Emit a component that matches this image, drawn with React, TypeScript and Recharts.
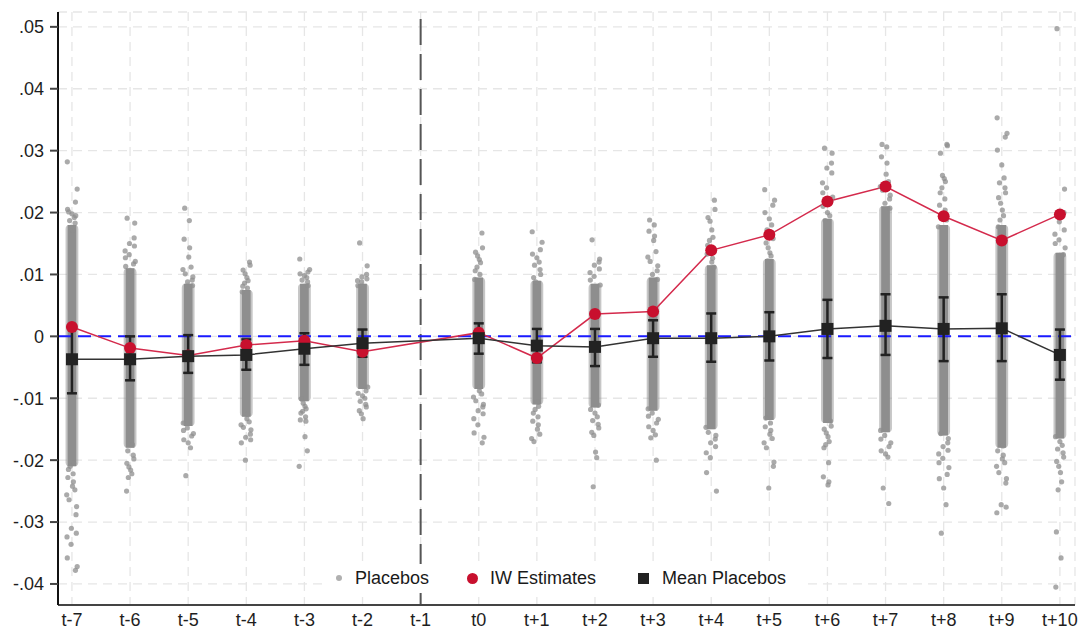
import React from 'react';
import {
  ComposedChart,
  XAxis,
  YAxis,
  CartesianGrid,
  Line,
  Scatter,
  ErrorBar,
  ReferenceLine,
  ReferenceArea,
} from 'recharts';

const categories = ['t-7', 't-6', 't-5', 't-4', 't-3', 't-2', 't-1', 't0', 't+1', 't+2', 't+3', 't+4', 't+5', 't+6', 't+7', 't+8', 't+9', 't+10'];

const iwEstimates = [0.0015, -0.0019, -0.0031, -0.0014, -0.0007, -0.0025, null, 0.0006, -0.0035, 0.0036, 0.004, 0.0139, 0.0164, 0.0218, 0.0242, 0.0194, 0.0155, 0.0197];

const meanPlacebos = [-0.0037, -0.0037, -0.0032, -0.003, -0.002, -0.0011, null, -0.0003, -0.0015, -0.0017, -0.0003, -0.0003, 0.0, 0.0012, 0.0017, 0.0012, 0.0013, -0.003];

const ciLow = [-0.0092, -0.0071, -0.0059, -0.0054, -0.0046, -0.0033, null, -0.0028, -0.0042, -0.0048, -0.0033, -0.0041, -0.0039, -0.0035, -0.003, -0.004, -0.004, -0.007];

const ciHigh = [0.0016, 0.0, 0.0002, -0.0005, 0.0005, 0.0011, null, 0.0021, 0.0012, 0.0012, 0.0026, 0.0037, 0.0039, 0.0059, 0.0068, 0.0063, 0.0068, 0.0011];

const yTicks = [-0.04, -0.03, -0.02, -0.01, 0, 0.01, 0.02, 0.03, 0.04, 0.05];
const yTickLabels = ['-.04', '-.03', '-.02', '-.01', '0', '.01', '.02', '.03', '.04', '.05'];

// dense central band of the placebo cloud, per category
const placeboCoreLow = [-0.021, -0.018, -0.0145, -0.013, -0.0105, -0.0085, null, -0.0085, -0.011, -0.0115, -0.012, -0.015, -0.0135, -0.014, -0.0155, -0.016, -0.018, -0.0165];
const placeboCoreHigh = [0.018, 0.011, 0.0085, 0.0075, 0.0085, 0.0085, null, 0.0095, 0.009, 0.0085, 0.0095, 0.0115, 0.0125, 0.019, 0.021, 0.018, 0.018, 0.0135];

// individual placebo estimates outside / at the edge of the dense band
const placeboValues: number[][] = [
  [0.0282, 0.0238, 0.0217, 0.0205, 0.0198, 0.0192, 0.0187, 0.0183, 0.0195, 0.0201, 0.0176, 0.0171, -0.0205, -0.021, -0.0215, -0.0222, -0.0228, -0.0235, -0.0242, -0.0248, -0.0256, -0.0264, -0.0275, -0.0288, -0.031, -0.0318, -0.0324, -0.0336, -0.0358, -0.0372, -0.0378],
  [0.0191, 0.0183, 0.0159, 0.015, 0.0146, 0.0138, 0.0132, 0.0127, 0.0121, 0.0117, 0.0113, 0.0106, -0.0175, -0.0185, -0.0192, -0.0198, -0.0205, -0.0211, -0.0216, -0.0222, -0.0228, -0.025],
  [0.0207, 0.0187, 0.0157, 0.0143, 0.0128, 0.0112, 0.0108, 0.0101, 0.0096, 0.0091, 0.0088, 0.0082, -0.014, -0.0148, -0.0152, -0.0157, -0.0161, -0.0167, -0.0172, -0.018, -0.0225],
  [0.012, 0.0115, 0.0107, 0.0101, 0.0095, 0.009, 0.0086, 0.0081, 0.0078, 0.0072, -0.0126, -0.0133, -0.0138, -0.0143, -0.0147, -0.0151, -0.0158, -0.0163, -0.0167, -0.0172, -0.02],
  [0.0125, 0.0108, 0.0104, 0.0101, 0.0098, 0.0095, 0.0091, 0.0088, 0.0082, -0.0101, -0.0108, -0.0113, -0.0117, -0.0121, -0.0124, -0.013, -0.0135, -0.0137, -0.0162, -0.0185, -0.021],
  [0.0151, 0.0114, 0.01, 0.0096, 0.0093, 0.009, 0.0088, 0.0082, -0.0082, -0.0088, -0.0092, -0.0096, -0.01, -0.0105, -0.011, -0.0114, -0.012, -0.0125, -0.0133],
  [],
  [0.0167, 0.0143, 0.0136, 0.013, 0.0124, 0.0119, 0.0112, 0.0106, 0.01, 0.0092, -0.0082, -0.0088, -0.0093, -0.0098, -0.0104, -0.011, -0.0114, -0.012, -0.0125, -0.0133, -0.0143, -0.0156, -0.0163, -0.0172],
  [0.0169, 0.0152, 0.014, 0.0133, 0.0127, 0.012, 0.0115, 0.0108, 0.01, 0.0095, 0.0088, -0.0106, -0.0113, -0.0118, -0.0124, -0.013, -0.0137, -0.0143, -0.015, -0.0158, -0.0165, -0.017],
  [0.0156, 0.0125, 0.012, 0.0115, 0.0109, 0.0103, 0.0097, 0.0091, 0.0083, -0.0111, -0.0118, -0.0124, -0.013, -0.0136, -0.0142, -0.0148, -0.0155, -0.016, -0.0187, -0.0196, -0.0243],
  [0.0188, 0.018, 0.017, 0.0162, 0.0155, 0.0137, 0.0128, 0.0121, 0.0114, 0.0106, 0.01, 0.0092, -0.0117, -0.0124, -0.0129, -0.0134, -0.014, -0.0146, -0.0152, -0.0159, -0.0164, -0.02],
  [0.022, 0.0205, 0.0192, 0.0186, 0.0172, 0.016, 0.0155, 0.0147, 0.014, 0.0133, 0.0126, 0.012, 0.0112, -0.0147, -0.0155, -0.016, -0.0166, -0.0172, -0.0178, -0.0188, -0.0196, -0.022, -0.025],
  [0.0237, 0.022, 0.0212, 0.02, 0.019, 0.018, 0.0172, 0.0167, 0.0158, 0.0151, 0.0143, 0.0135, 0.013, 0.0122, -0.0132, -0.014, -0.0146, -0.0152, -0.0158, -0.0165, -0.0172, -0.018, -0.0203, -0.021, -0.0245],
  [0.0304, 0.0296, 0.028, 0.0272, 0.0264, 0.0248, 0.024, 0.0232, 0.0225, 0.0218, 0.021, 0.02, 0.0195, 0.0187, -0.0137, -0.0145, -0.015, -0.0156, -0.0162, -0.017, -0.0175, -0.018, -0.0204, -0.0227, -0.0235, -0.024],
  [0.031, 0.0306, 0.029, 0.028, 0.0262, 0.025, 0.0242, 0.0236, 0.0228, 0.0222, 0.0215, 0.0207, -0.0152, -0.016, -0.0166, -0.0172, -0.0178, -0.0185, -0.019, -0.0195, -0.0245, -0.027],
  [0.031, 0.0308, 0.0296, 0.026, 0.0255, 0.025, 0.024, 0.0232, 0.0222, 0.0212, 0.0204, 0.0195, 0.0188, 0.0177, -0.0157, -0.0165, -0.0172, -0.0178, -0.0184, -0.019, -0.0197, -0.0204, -0.0212, -0.0223, -0.023, -0.0245, -0.0272, -0.0318],
  [0.0353, 0.0328, 0.0322, 0.0301, 0.0277, 0.0256, 0.0248, 0.024, 0.0232, 0.0224, 0.0215, 0.0204, 0.0195, 0.0188, 0.0177, -0.0177, -0.0185, -0.0192, -0.0198, -0.0204, -0.021, -0.022, -0.023, -0.0237, -0.0272, -0.0276, -0.0285],
  [0.0497, 0.0238, 0.02, 0.0185, 0.0172, 0.0165, 0.0156, 0.015, 0.0143, 0.0132, -0.0162, -0.017, -0.0176, -0.0182, -0.0188, -0.0195, -0.0202, -0.021, -0.022, -0.0235, -0.0248, -0.0316, -0.0358, -0.0405],
];

// horizontal jitter (in category units) used to spread the placebo dots
const jitterOffsets = [-0.08, 0.05, -0.02, 0.09, -0.09, 0.01, 0.06, -0.05, 0.03, -0.075, 0.08, -0.03, 0.0, 0.07, -0.06, 0.04, -0.01, 0.02, -0.04, 0.075, -0.07, 0.055, -0.085, 0.025, 0.065, -0.015, 0.01, -0.055];

const mainData = categories.map((c, i) => ({ x: i, name: c, iw: iwEstimates[i], mean: meanPlacebos[i] }));

const ciData = categories
  .map((c, i) => ({
    x: i,
    mean: meanPlacebos[i],
    err: meanPlacebos[i] === null ? null : [(meanPlacebos[i] as number) - (ciLow[i] as number), (ciHigh[i] as number) - (meanPlacebos[i] as number)],
  }))
  .filter((d) => d.mean !== null);

const placeboPoints = placeboValues.flatMap((vals, i) =>
  vals.map((v, k) => ({ x: i + jitterOffsets[(k * 3 + i * 7) % jitterOffsets.length], y: v }))
);

const FONT = "'Liberation Sans', Arial, Helvetica, sans-serif";
const RED = '#c8102e';
const GREY = '#8e8e8e';

const PlaceboDot = (p: any) => {
  if (p.cx == null || p.cy == null) return <g />;
  return <circle cx={p.cx} cy={p.cy} r={2.6} fill={GREY} fillOpacity={0.75} />;
};

const NoShape = () => <g />;

const RedDot = (p: any) => {
  if (p.cx == null || p.cy == null || p.value == null) return <g key={`r-${p.index}`} />;
  return <circle key={`r-${p.index}`} cx={p.cx} cy={p.cy} r={6} fill={RED} stroke="none" />;
};

const SquareDot = (p: any) => {
  if (p.cx == null || p.cy == null || p.value == null) return <g key={`s-${p.index}`} />;
  return <rect key={`s-${p.index}`} x={p.cx - 6} y={p.cy - 6} width={12} height={12} fill="#222" />;
};

export default function App() {
  return (
    <div style={{ position: 'absolute', left: 0, top: 0, width: 1080, height: 629, background: '#fff', fontFamily: FONT }}>
      <ComposedChart width={1080} height={629} data={mainData} margin={{ top: 12, right: 5, bottom: 0, left: 0 }}>
        <CartesianGrid stroke="#e6e6e6" strokeWidth={1.3} strokeDasharray="9 6" />
        <XAxis
          type="number"
          dataKey="x"
          domain={[-0.24, 17.26]}
          ticks={categories.map((_, i) => i)}
          interval={0}
          allowDataOverflow
          tickFormatter={(v: number) => categories[v] ?? ''}
          tickLine={false}
          axisLine={{ stroke: '#444', strokeWidth: 2 }}
          tick={{ fill: '#1e1e1e', fontSize: 18 }}
          height={24}
          tickMargin={2}
        />
        <YAxis
          type="number"
          domain={[-0.0434, 0.0524]}
          ticks={yTicks}
          interval={0}
          allowDataOverflow
          tickFormatter={(v: number) => yTickLabels[yTicks.indexOf(v)] ?? ''}
          width={58}
          tickSize={8}
          tickMargin={6}
          tickLine={{ stroke: '#444', strokeWidth: 2 }}
          axisLine={{ stroke: '#111', strokeWidth: 2 }}
          tick={{ fill: '#1e1e1e', fontSize: 18 }}
        />
        <ReferenceLine x={6} stroke="#555" strokeWidth={2} strokeDasharray="26 9" />
        {categories.map((c, i) =>
          placeboCoreLow[i] === null ? null : (
            <ReferenceArea
              key={`halo-${c}`}
              x1={i - 0.11}
              x2={i + 0.11}
              y1={(placeboCoreLow[i] as number)}
              y2={(placeboCoreHigh[i] as number)}
              fill={GREY}
              fillOpacity={0.5}
              stroke="none"
              radius={4}
              ifOverflow="visible"
            />
          )
        )}
        {categories.map((c, i) =>
          placeboCoreLow[i] === null ? null : (
            <ReferenceArea
              key={`core-${c}`}
              x1={i - 0.075}
              x2={i + 0.075}
              y1={placeboCoreLow[i] as number}
              y2={placeboCoreHigh[i] as number}
              fill={GREY}
              fillOpacity={1}
              stroke="none"
              ifOverflow="visible"
            />
          )
        )}
        <Scatter name="Placebos" data={placeboPoints} dataKey="y" shape={PlaceboDot} isAnimationActive={false} />
        <ReferenceLine y={0} stroke="#1a1aff" strokeWidth={2} strokeDasharray="13 7" />
        <Scatter data={ciData} dataKey="mean" shape={NoShape} isAnimationActive={false}>
          <ErrorBar dataKey="err" direction="y" width={5} stroke="#222" strokeWidth={2.5} isAnimationActive={false} />
        </Scatter>
        <Line
          name="IW Estimates"
          dataKey="iw"
          stroke="#d42a4c"
          strokeWidth={1.5}
          connectNulls
          dot={RedDot}
          activeDot={false}
          isAnimationActive={false}
        />
        <Line
          name="Mean Placebos"
          dataKey="mean"
          stroke="#333"
          strokeWidth={1.5}
          connectNulls
          dot={SquareDot}
          activeDot={false}
          isAnimationActive={false}
        />
      </ComposedChart>
      <div
        style={{
          position: 'absolute',
          left: 326,
          top: 564,
          width: 478,
          height: 29,
          background: '#fff',
          fontSize: 18,
          color: '#1a1a1a',
          lineHeight: '29px',
        }}
      >
        <span style={{ position: 'absolute', left: 10, top: 11, width: 6, height: 6, borderRadius: 3, background: '#b0b0b0' }} />
        <span style={{ position: 'absolute', left: 29, top: 0 }}>Placebos</span>
        <span style={{ position: 'absolute', left: 141, top: 9, width: 11, height: 11, borderRadius: 6, background: RED }} />
        <span style={{ position: 'absolute', left: 164, top: 0 }}>IW Estimates</span>
        <span style={{ position: 'absolute', left: 312, top: 9, width: 11, height: 11, background: '#222' }} />
        <span style={{ position: 'absolute', left: 336, top: 0 }}>Mean Placebos</span>
      </div>
    </div>
  );
}
